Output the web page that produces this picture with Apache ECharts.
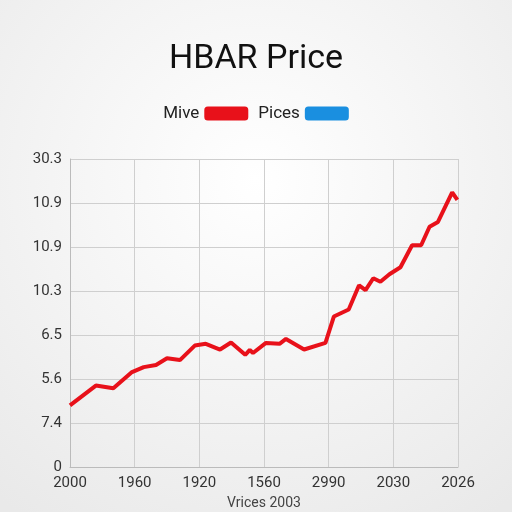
<!DOCTYPE html>
<html>
<head>
<meta charset="utf-8">
<script src="https://cdn.jsdelivr.net/npm/echarts@6/dist/echarts.min.js"></script>
<style>
  html, body { margin: 0; padding: 0; }
  #main { width: 512px; height: 512px; }
</style>
</head>
<body>
<div id="main"></div>
<script>
// tick labels (as printed in the picture)
var xLabels = ['2000', '1960', '1920', '1560', '2990', '2030', '2026'];
var yLabels = ['0', '7.4', '5.6', '6.5', '10.3', '10.9', '10.9', '30.3'];
// red line, in grid units (x: 0..6, y: 0..7)
var miveX = [0, 0.40, 0.67, 0.95, 1.14, 1.33, 1.50, 1.70, 1.93, 2.10, 2.32, 2.49, 2.71, 2.78, 2.83, 3.03, 3.24, 3.34, 3.62, 3.95, 4.08, 4.31, 4.47, 4.57, 4.69, 4.80, 4.94, 5.11, 5.29, 5.43, 5.56, 5.69, 5.91, 5.99];
var miveY = [1.40, 1.85, 1.79, 2.15, 2.27, 2.32, 2.47, 2.43, 2.76, 2.80, 2.67, 2.83, 2.55, 2.66, 2.59, 2.82, 2.80, 2.91, 2.67, 2.82, 3.42, 3.58, 4.13, 4.02, 4.29, 4.21, 4.38, 4.54, 5.04, 5.04, 5.46, 5.57, 6.24, 6.07];
var pices = [];

var chart = echarts.init(document.getElementById('main'));
var mive = [];
for (var i = 0; i < miveX.length; i++) {
    mive.push([miveX[i], miveY[i]]);
}
var font = 'Roboto, "Noto Sans", sans-serif';

var option = {
    backgroundColor: {
        type: 'radial', x: 0.5, y: 0.35, r: 0.8,
        colorStops: [{ offset: 0, color: '#ffffff' }, { offset: 1, color: '#e9e9e9' }]
    },
    title: {
        text: 'HBAR Price',
        left: 'center',
        top: 37,
        textStyle: { fontSize: 34, fontWeight: 'normal', color: '#111', fontFamily: font }
    },
    legend: {
        top: 100,
        left: 'center',
        align: 'right',
        itemWidth: 44,
        itemHeight: 14,
        itemGap: 10,
        textStyle: { fontSize: 17, color: '#222', fontFamily: font },
        data: [
            { name: 'Mive', icon: 'roundRect', itemStyle: { color: '#e8111a' } },
            { name: 'Pices', icon: 'roundRect', itemStyle: { color: '#1a8fe0' } }
        ]
    },
    grid: { left: 70, right: 54, top: 159, bottom: 45, outerBoundsMode: 'none' },
    xAxis: {
        type: 'value',
        min: 0, max: 6, interval: 1,
        name: 'Vrices 2003',
        nameLocation: 'middle',
        nameGap: 29,
        nameTextStyle: { fontSize: 14, color: '#444', fontFamily: font },
        axisLine: { lineStyle: { color: '#bbb' } },
        axisTick: { show: false },
        axisLabel: {
            fontSize: 15, color: '#333', fontFamily: font, margin: 9,
            formatter: function (v) { return xLabels[Math.round(v)]; }
        },
        splitLine: { lineStyle: { color: '#cfcfcf' } }
    },
    yAxis: {
        type: 'value',
        min: 0, max: 7, interval: 1,
        axisLine: { show: true, lineStyle: { color: '#bbb' } },
        axisTick: { show: false },
        axisLabel: {
            fontSize: 15, color: '#333', fontFamily: font, margin: 8,
            formatter: function (v) { return yLabels[Math.round(v)]; }
        },
        splitLine: { lineStyle: { color: '#cfcfcf' } }
    },
    series: [
        {
            name: 'Mive',
            type: 'line',
            data: mive,
            showSymbol: false,
            lineStyle: { color: '#e8111a', width: 4 },
            itemStyle: { color: '#e8111a' }
        },
        {
            name: 'Pices',
            type: 'line',
            data: pices,
            showSymbol: false,
            itemStyle: { color: '#1a8fe0' }
        }
    ]
};
chart.setOption(option);
</script>
</body>
</html>
